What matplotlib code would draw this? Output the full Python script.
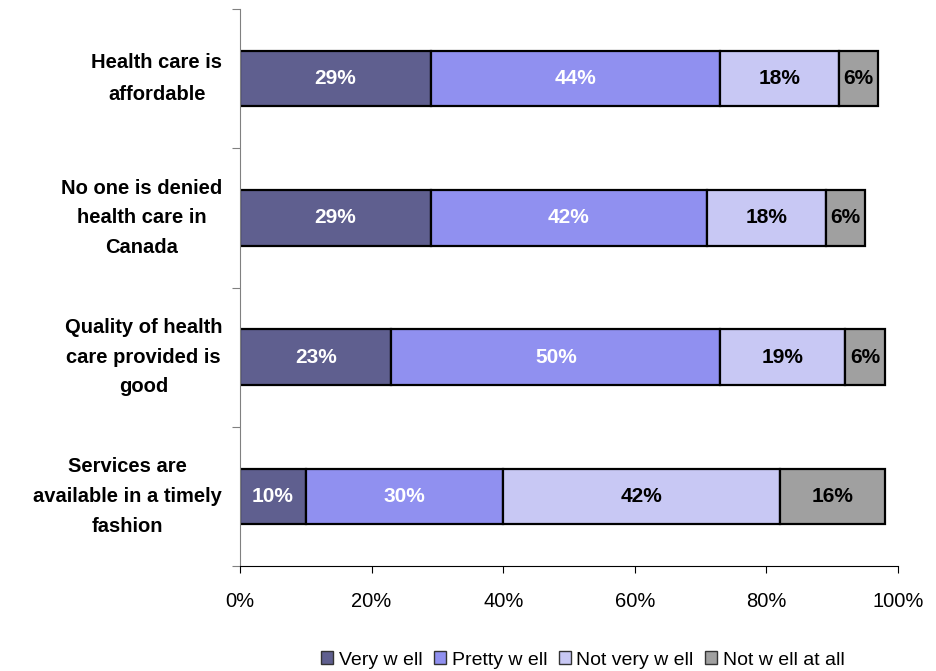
import numpy as np
import matplotlib
matplotlib.use('Agg')
import matplotlib.pyplot as plt
from matplotlib.patches import Patch

categories = ['Health care is\naffordable',
              'No one is denied\nhealth care in\nCanada',
              'Quality of health\ncare provided is\ngood',
              'Services are\navailable in a timely\nfashion']
series = ['Very w ell', 'Pretty w ell', 'Not very w ell', 'Not w ell at all']
very_well = [29, 29, 23, 10]
pretty_well = [44, 42, 50, 30]
not_very_well = [18, 18, 19, 42]
not_well_at_all = [6, 6, 6, 16]

colors = ['#5f5f8f', '#9090f0', '#c8c8f4', '#a0a0a0']
text_colors = ['white', 'white', 'black', 'black']

plt.rcParams['font.family'] = ['Liberation Sans', 'DejaVu Sans']

fig = plt.figure(figsize=(9.36, 6.71), dpi=100)
ax = fig.add_axes([240/936, 1 - 566/671, (898 - 240)/936, (566 - 9)/671])

y = np.arange(len(categories))
left = np.zeros(len(categories))
for vals, col, tc in zip([very_well, pretty_well, not_very_well, not_well_at_all], colors, text_colors):
    vals = np.array(vals, dtype=float)
    ax.barh(y, vals, left=left, height=0.40, color=col, edgecolor='black', linewidth=1.6)
    for yi, l, v in zip(y, left, vals):
        ax.text(l + v / 2, yi, f'{int(v)}%', ha='center', va='center',
                color=tc, fontsize=15, fontweight='bold')
    left += vals

ax.set_xlim(0, 100)
ax.set_ylim(len(categories) - 0.5, -0.5)
ax.set_xticks(np.arange(0, 101, 20))
ax.set_xticklabels([f'{v}%' for v in range(0, 101, 20)], fontsize=14.5)
ax.tick_params(axis='x', direction='out', length=5, pad=14)

# y ticks at the category boundaries, labels centered on bars
ax.set_yticks(np.arange(len(categories) + 1) - 0.5)
ax.set_yticklabels([])
ax.tick_params(axis='y', direction='out', length=6, color='#808080')
for yi, cat in zip(y, categories):
    lsp = 1.85 if cat.count('\n') == 1 else 1.72
    ax.text(-2.7, yi, cat, ha='right', va='center', fontsize=14.5,
            fontweight='bold', multialignment='center', linespacing=lsp)

for s in ['top', 'right']:
    ax.spines[s].set_visible(False)
ax.spines['left'].set_color('#808080')
ax.spines['bottom'].set_color('black')

handles = [Patch(facecolor=c, edgecolor='#333333', label=s) for c, s in zip(colors, series)]
fig.legend(handles=handles, loc='center', bbox_to_anchor=(583/936, 1 - 660/671), ncol=4,
           frameon=False, fontsize=14, handlelength=0.6, handleheight=0.6,
           handletextpad=0.3, columnspacing=0.6)

fig.savefig('out.png', dpi=100)
